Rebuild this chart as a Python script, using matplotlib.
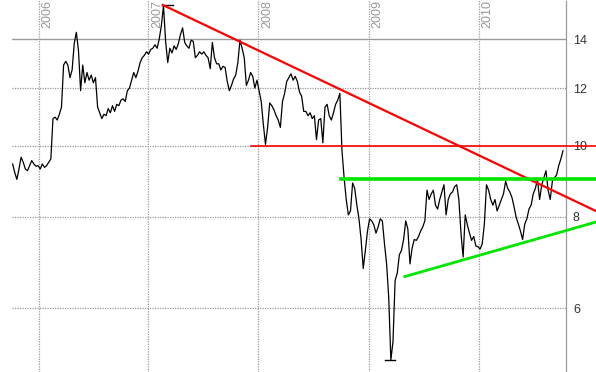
import numpy as np
import pandas as pd
import matplotlib
matplotlib.use("Agg")
import matplotlib.pyplot as plt
import matplotlib.dates as mdates
from matplotlib.ticker import FixedLocator, FixedFormatter, NullLocator

# weekly closes (Oct 2005 .. Oct 2010)
prices = [
    9.45, 9.2, 9.0, 9.3, 9.65, 9.5, 9.3, 9.25, 9.4, 9.55,
    9.45, 9.38, 9.4, 9.3, 9.45, 9.35, 9.4, 9.5, 9.6, 10.9,
    10.95, 10.85, 11.05, 11.3, 12.9, 13.05, 12.9, 12.4, 12.7, 13.8,
    14.3, 13.5, 11.9, 12.9, 12.2, 12.6, 12.3, 12.5, 12.2, 12.4,
    11.3, 11.1, 10.9, 11.05, 11.0, 11.25, 11.1, 11.35, 11.15, 11.4,
    11.35, 11.55, 11.6, 11.5, 11.9, 12.0, 12.3, 12.6, 12.4, 12.65,
    13.0, 13.2, 13.3, 13.45, 13.35, 13.55, 13.6, 13.75, 13.6, 14.0,
    14.6, 15.55, 13.9, 13.0, 13.6, 13.4, 13.7, 13.55, 13.8, 14.2,
    14.5, 13.85, 13.7, 13.6, 13.95, 13.9, 13.2, 13.3, 13.45, 13.35,
    13.45, 13.3, 13.2, 12.75, 13.85, 13.2, 12.95, 12.95, 12.7, 12.85,
    12.8, 12.25, 11.9, 12.1, 12.35, 12.5, 13.0, 13.95, 13.6, 13.2,
    12.1, 12.3, 12.6, 12.45, 12.0, 12.3, 11.9, 11.5, 10.7, 10.05,
    10.6, 11.45, 11.35, 11.2, 11.0, 10.85, 10.6, 11.5, 11.8, 12.25,
    12.4, 12.55, 12.3, 12.45, 12.25, 11.85, 11.7, 11.15, 11.15, 11.0,
    11.1, 10.9, 11.0, 10.2, 10.85, 10.9, 10.1, 11.3, 11.4, 11.0,
    10.85, 11.1, 11.4, 11.55, 11.8, 9.85, 9.05, 8.45, 8.05, 8.15,
    8.9, 8.75, 8.3, 7.95, 7.45, 6.8, 7.2, 7.65, 7.95, 7.9,
    7.8, 7.6, 7.75, 7.95, 7.9, 7.35, 6.9, 6.2, 5.1, 5.4,
    6.55, 6.7, 7.1, 7.2, 7.45, 7.9, 7.7, 6.9, 7.25, 7.45,
    7.43, 7.52, 7.65, 7.75, 7.9, 8.7, 8.45, 8.6, 8.7, 8.3,
    8.2, 8.45, 8.65, 8.85, 8.05, 8.45, 8.6, 8.65, 8.8, 8.85,
    8.45, 7.6, 7.05, 8.05, 7.8, 7.6, 7.43, 7.52, 7.3, 7.28,
    7.23, 7.35, 7.82, 8.85, 8.7, 8.45, 8.3, 8.45, 8.15, 8.3,
    8.45, 8.6, 8.95, 8.75, 8.65, 8.5, 8.25, 7.98, 7.82, 7.65,
    7.45, 7.82, 7.95, 8.2, 8.3, 8.6, 8.75, 9.0, 8.45, 8.85,
    9.05, 9.25, 8.7, 8.45, 8.95, 9.05, 9.13, 9.4, 9.6, 9.85,
]
dates = pd.date_range("2005-10-07", "2010-10-08", periods=len(prices))

# drawn trend lines: (start date, end date, start price, end price)
red_trend = (["2007-02-18", "2011-01-25"], [15.58, 8.15])
red_level = (["2007-12-09", "2011-01-25"], [10.0, 10.0])
green_level = (["2008-10-01", "2011-01-25"], [9.0, 9.0])
green_trend = (["2009-05-01", "2011-01-25"], [6.63, 7.87])
high_mark = (["2007-02-14", "2007-03-23"], [15.58, 15.58])
low_mark = (["2009-02-24", "2009-03-28"], [5.1, 5.1])

y_ticks = [6, 8, 10, 12, 14]
years = [2006, 2007, 2008, 2009, 2010]

plt.rcParams['font.family'] = ['Liberation Sans', 'DejaVu Sans']

fig = plt.figure(figsize=(5.96, 3.72), dpi=100)
ax = fig.add_axes([12 / 596, 0, 554 / 596, 1])

grid_col = '#9a9a9a'
dotted = (0, (1, 1))

ax.set_yscale('log')
ax.set_ylim(4.91, 15.83)
ax.set_xlim(pd.Timestamp("2005-10-05"), pd.Timestamp("2010-10-18"))

for yv in y_ticks:
    if yv == 14:
        ax.axhline(yv, color=grid_col, lw=1.0, zorder=1)
    else:
        ax.axhline(yv, color=grid_col, lw=0.9, ls=dotted, zorder=1)
for yr in years:
    d = pd.Timestamp(f"{yr}-01-01")
    ax.axvline(d, color=grid_col, lw=0.9, ls=dotted, zorder=1)
    ax.annotate(str(yr), xy=(d, 1), xycoords=('data', 'axes fraction'),
                xytext=(2, 0), textcoords='offset points',
                rotation=90, ha='left', va='top', fontsize=9, color='#999999')

# price line
ax.plot(dates, prices, color='black', lw=0.9, zorder=3)

def seg(pair, **kw):
    ax.plot(pd.to_datetime(pair[0]), pair[1], clip_on=False, **kw)

seg(red_trend, color='#ff0000', lw=1.6, zorder=4)
seg(red_level, color='#ff0000', lw=1.2, zorder=4)
seg(green_level, color='#00e600', lw=2.6, zorder=4)
seg(green_trend, color='#00e600', lw=2.0, zorder=4)
seg(high_mark, color='black', lw=1.0, zorder=3)
seg(low_mark, color='black', lw=1.0, zorder=3)

ax.yaxis.tick_right()
ax.yaxis.set_major_locator(FixedLocator(y_ticks))
ax.yaxis.set_major_formatter(FixedFormatter([str(v) for v in y_ticks]))
ax.yaxis.set_minor_locator(NullLocator())
ax.tick_params(axis='y', length=0, pad=5, labelsize=9, labelcolor='#333333')
ax.set_xticks([])

for s in ['left', 'top', 'bottom']:
    ax.spines[s].set_visible(False)
ax.spines['right'].set_color(grid_col)
ax.spines['right'].set_linestyle(dotted)
ax.spines['right'].set_linewidth(0.9)

fig.savefig('out.png', dpi=100)
